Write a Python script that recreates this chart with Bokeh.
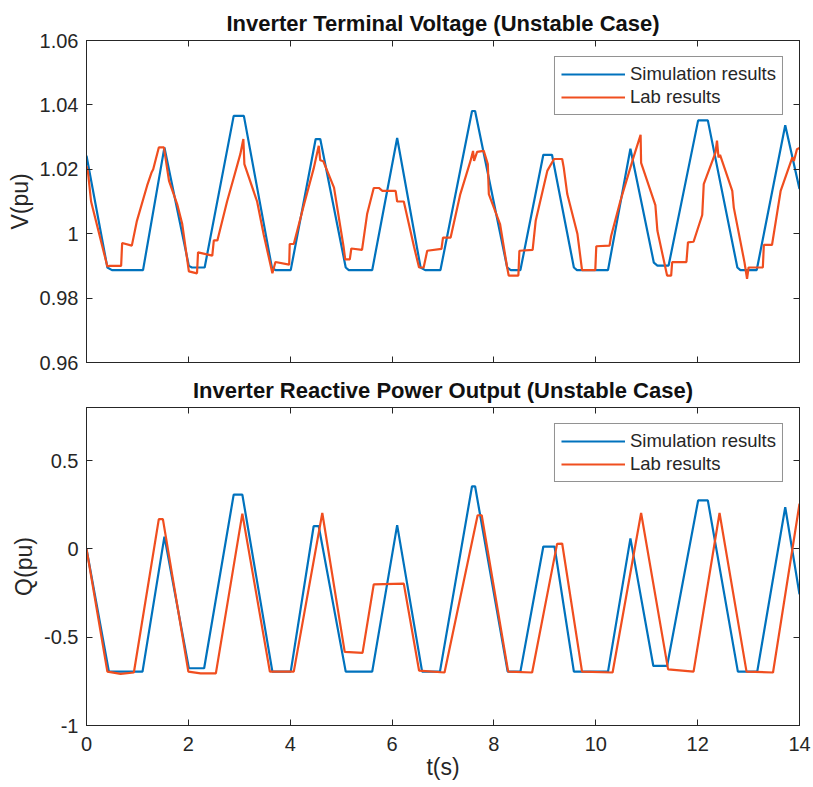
from bokeh.plotting import figure
from bokeh.layouts import column
from bokeh.models import (Range1d, FixedTicker, LinearAxis, Legend, LegendItem,
                          CustomJSTickFormatter, CustomLabelingPolicy)
from bokeh.embed import file_html
from bokeh.resources import INLINE

# ---------------- data ----------------
t_sim_v = [0, 0.41, 0.50, 1.11, 1.53, 2.01, 2.07, 2.32, 2.89, 3.09, 3.64, 3.71, 4.01,
           4.50, 4.59, 5.09, 5.15, 5.61, 6.10, 6.56, 6.65, 6.95, 7.57, 7.63, 8.26, 8.33,
           8.52, 8.97, 9.14, 9.57, 9.63, 10.24, 10.68, 11.14, 11.21, 11.43, 12.01, 12.20,
           12.78, 12.84, 13.16, 13.72, 14.0]
v_sim = [1.0242, 0.9895, 0.9887, 0.9887, 1.0268, 0.9900, 0.9895, 0.9895, 1.0366, 1.0366,
         0.9895, 0.9887, 0.9887, 1.0294, 1.0294, 0.9895, 0.9887, 0.9887, 1.0297, 0.9895,
         0.9887, 0.9887, 1.0381, 1.0381, 0.9895, 0.9887, 0.9887, 1.0245, 1.0245, 0.9895,
         0.9887, 0.9887, 1.0264, 0.9910, 0.9901, 0.9901, 1.0352, 1.0352, 0.9895, 0.9887,
         0.9887, 1.0337, 1.0139]

t_lab_v = [0, 0.03, 0.09, 0.41, 0.45, 0.68, 0.70, 0.89, 0.99, 1.19, 1.28, 1.31, 1.42, 1.52,
           1.62, 1.78, 1.88, 2.01, 2.17, 2.19, 2.47, 2.50, 2.57, 2.76, 2.89, 3.02, 3.08, 3.10,
           3.35, 3.48, 3.65, 3.71, 3.98, 3.99, 4.07, 4.27, 4.46, 4.56, 4.59, 4.65, 4.86, 5.05,
           5.08, 5.17, 5.20, 5.41, 5.51, 5.64, 5.74, 5.81, 6.07, 6.10, 6.23, 6.43, 6.53, 6.62,
           6.69, 6.97, 7.00, 7.15, 7.34, 7.54, 7.59, 7.61, 7.67, 7.80, 7.88, 7.90, 8.12, 8.26,
           8.29, 8.48, 8.50, 8.76, 8.82, 9.05, 9.18, 9.34, 9.37, 9.44, 9.64, 9.73, 9.99, 10.01,
           10.27, 10.30, 10.48, 10.74, 10.88, 10.89, 11.17, 11.21, 11.40, 11.48, 11.50, 11.78,
           11.81, 11.92, 12.09, 12.12, 12.35, 12.38, 12.41, 12.44, 12.68, 12.71, 12.92, 12.97,
           13.00, 13.28, 13.30, 13.46, 13.63, 13.86, 13.89, 13.95, 14.0]
v_lab = [1.0210, 1.0190, 1.0100, 0.9898, 0.9900, 0.9900, 0.9971, 0.9963, 1.0040, 1.0149,
         1.0191, 1.0200, 1.0268, 1.0268, 1.0164, 1.0092, 1.0030, 0.9883, 0.9877, 0.9942,
         0.9932, 0.9979, 0.9979, 1.0100, 1.0173, 1.0247, 1.0294, 1.0216, 1.0100, 0.9997,
         0.9877, 0.9912, 0.9904, 0.9968, 0.9968, 1.0090, 1.0202, 1.0273, 1.0228, 1.0225,
         1.0143, 0.9957, 0.9920, 0.9920, 0.9954, 0.9950, 1.0061, 1.0142, 1.0142, 1.0133,
         1.0133, 1.0100, 1.0100, 0.9960, 0.9895, 0.9895, 0.9947, 0.9953, 0.9988, 0.9988,
         1.0123, 1.0226, 1.0257, 1.0226, 1.0254, 1.0257, 1.0216, 1.0123, 1.0030, 0.9895,
         0.9870, 0.9870, 0.9947, 0.9950, 1.0040, 1.0196, 1.0232, 1.0232, 1.0206, 1.0123,
         0.9999, 0.9887, 0.9887, 0.9961, 0.9963, 0.9992, 1.0100, 1.0237, 1.0307, 1.0220,
         1.0089, 1.0009, 0.9870, 0.9870, 0.9912, 0.9912, 0.9973, 0.9975, 1.0058, 1.0154,
         1.0252, 1.0289, 1.0237, 1.0245, 1.0133, 1.0081, 0.9911, 0.9860, 0.9895, 0.9895,
         0.9965, 0.9965, 1.0133, 1.0237, 1.0226, 1.0262, 1.0266]

t_sim_q = [0, 0.44, 1.10, 1.53, 2.01, 2.31, 2.89, 3.06, 3.65, 4.01, 4.46, 4.56, 5.09, 5.61,
           6.10, 6.59, 6.94, 7.57, 7.63, 8.27, 8.52, 8.97, 9.19, 9.57, 10.24, 10.68, 11.13,
           11.40, 12.01, 12.20, 12.79, 13.17, 13.72, 14.0]
q_sim = [0, -0.695, -0.695, 0.069, -0.676, -0.676, 0.307, 0.307, -0.695, -0.695, 0.128,
         0.128, -0.695, -0.695, 0.134, -0.695, -0.695, 0.354, 0.354, -0.695, -0.695, 0.013,
         0.013, -0.695, -0.695, 0.059, -0.663, -0.663, 0.274, 0.274, -0.695, -0.695, 0.236,
         -0.257]

t_lab_q = [0, 0.41, 0.67, 0.93, 1.42, 1.50, 2.00, 2.24, 2.54, 3.06, 3.60, 4.07, 4.63, 5.07,
           5.42, 5.64, 6.23, 6.53, 7.03, 7.68, 7.76, 8.28, 8.75, 9.24, 9.34, 9.73, 10.33,
           10.89, 11.42, 11.92, 12.43, 12.96, 13.48, 14.0]
q_lab = [0, -0.695, -0.708, -0.700, 0.168, 0.168, -0.695, -0.705, -0.705, 0.199, -0.695,
         -0.695, 0.203, -0.583, -0.589, -0.201, -0.197, -0.689, -0.700, 0.190, 0.190,
         -0.695, -0.700, 0.028, 0.030, -0.695, -0.700, 0.203, -0.682, -0.695, 0.203,
         -0.695, -0.700, 0.255]

x_ticks = [0, 2, 4, 6, 8, 10, 12, 14]
v_ticks = [0.96, 0.98, 1.0, 1.02, 1.04, 1.06]
q_ticks = [-1, -0.5, 0, 0.5]

BLUE = "#0072BD"
RED = "#F04E1F"
FONT = "Liberation Sans"
AX = "#262626"

fmt = CustomJSTickFormatter(code="return String(Number(tick.toFixed(3)));")
no_labels = CustomLabelingPolicy(code="return new Set();")


def style_axis(ax, labels=True, standoff=9):
    ax.axis_line_color = AX
    ax.major_tick_line_color = AX
    ax.major_tick_in = 6
    ax.major_tick_out = 0
    ax.minor_tick_line_color = None
    ax.major_label_text_font = FONT
    ax.major_label_text_color = AX
    if labels:
        ax.major_label_text_font_size = "20px"
        ax.major_label_standoff = standoff
    else:
        ax.major_label_text_font_size = "1px"
        ax.major_label_standoff = 0
        ax.major_label_policy = no_labels
    ax.axis_label_text_font = FONT
    ax.axis_label_text_font_size = "23px"
    ax.axis_label_text_font_style = "normal"
    ax.axis_label_text_color = AX


def make_fig(title, height, top, bottom, yr, yticks, ylabel, xlabel_show):
    p = figure(width=813, height=height, output_backend="svg", toolbar_location=None,
               x_range=Range1d(0, 14), y_range=Range1d(*yr),
               min_border_left=86, min_border_right=14, min_border_top=top,
               min_border_bottom=bottom, x_axis_type=None, y_axis_type=None)
    p.title.text = title
    p.title.align = "center"
    p.title.text_font = FONT
    p.title.text_font_size = "22px"
    p.title.text_font_style = "bold"
    p.title.text_color = "#111111"
    p.title.standoff = 2
    p.grid.visible = False
    p.outline_line_color = AX
    p.outline_line_width = 1
    p.background_fill_color = "white"
    p.border_fill_color = "white"

    xb = LinearAxis(ticker=FixedTicker(ticks=x_ticks))
    style_axis(xb, labels=xlabel_show, standoff=11)
    if xlabel_show:
        xb.axis_label = "t(s)"
        xb.axis_label_standoff = 0
    p.add_layout(xb, "below")
    xt = LinearAxis(ticker=FixedTicker(ticks=x_ticks))
    style_axis(xt, labels=False)
    p.add_layout(xt, "above")

    yl = LinearAxis(ticker=FixedTicker(ticks=yticks), formatter=fmt)
    style_axis(yl, standoff=8)
    yl.axis_label = ylabel
    yl.axis_label_standoff = 4
    p.add_layout(yl, "left")
    yrt = LinearAxis(ticker=FixedTicker(ticks=yticks))
    style_axis(yrt, labels=False)
    p.add_layout(yrt, "right")
    return p


p1 = make_fig("Inverter Terminal Voltage (Unstable Case)", 374, 40, 12,
              (0.96, 1.06), v_ticks, "V(pu)", False)
p2 = make_fig("Inverter Reactive Power Output (Unstable Case)", 413, 30, 62,
              (-1, 0.8), q_ticks, "Q(pu)", True)


def add_lines(p, ts, ys, tl, yl):
    r1 = p.line(ts, ys, line_color=BLUE, line_width=2.2)
    r2 = p.line(tl, yl, line_color=RED, line_width=2.2)
    leg = Legend(items=[LegendItem(label="Simulation results", renderers=[r1]),
                        LegendItem(label="Lab results", renderers=[r2])],
                 location="top_right")
    leg.margin = 16
    leg.padding = 6
    leg.spacing = 1
    leg.glyph_width = 64
    leg.glyph_height = 20
    leg.label_height = 20
    leg.label_standoff = 5
    leg.label_text_font = FONT
    leg.label_text_font_size = "18.5px"
    leg.label_text_color = AX
    leg.border_line_color = AX
    leg.border_line_width = 1
    leg.background_fill_alpha = 1
    p.add_layout(leg, "center")


add_lines(p1, t_sim_v, v_sim, t_lab_v, v_lab)
add_lines(p2, t_sim_q, q_sim, t_lab_q, q_lab)

layout = column(p1, p2, spacing=0)
open("out.html", "w").write(file_html(layout, INLINE))
